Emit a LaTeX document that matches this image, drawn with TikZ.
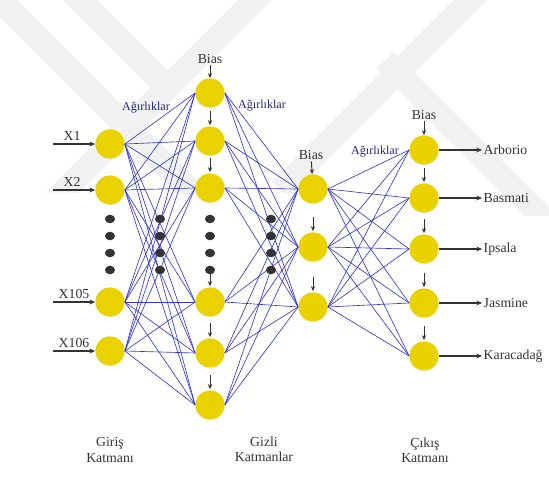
\documentclass[tikz,border=0pt]{standalone}
\usepackage{fontspec}
\setmainfont{Liberation Serif}
\usetikzlibrary{arrows.meta,calc}
\definecolor{Ink}{HTML}{333333}
\definecolor{Wire}{HTML}{3434D4}
\definecolor{Navy}{HTML}{24247E}
\definecolor{Yolk}{HTML}{EAD200}
\definecolor{Mark}{HTML}{F1F1F1}

\begin{document}
\begin{tikzpicture}[x=0.25mm,y=-0.25mm,
  neuron/.style={circle,fill=Yolk,minimum size=7.3mm,inner sep=0pt},
  wire/.style={Wire,line width=0.45pt},
  tick/.style={Ink,line width=0.7pt,-{Stealth[length=3.5pt,width=3pt]}},
  io/.style={Ink,line width=1pt,-{Stealth[length=4pt,width=3.5pt]}},
  txt/.style={text=Ink,font=\fontsize{9.8}{10.8}\selectfont,inner sep=1pt},
  wt/.style={text=Navy,font=\fontsize{8.6}{10}\selectfont,inner sep=1pt},
  band/.style={Mark,line width=6mm}]
  \useasboundingbox (0,0) rectangle (549,480);
  % watermark
  \begin{scope}
    \clip (0,0) rectangle (549,192);
    \draw[band] (-10,-10) -- (200,200);
    \draw[band] (70,-10) -- (170,90);
    \draw[band] (265,-10) -- (55,200);
    \draw[band] (480,-10) -- (280,190);
  \end{scope}
  \begin{scope}
    \clip (0,0) rectangle (549,215);
    \draw[band] (385,60) -- (560,235);
  \end{scope}
  % layers
  \foreach \n/\y in {1/144,2/190,3/302,4/351} \node[neuron] (i\n) at (110,\y) {};
  \foreach \n/\y in {1/93,2/141,3/188,4/302,5/353,6/405} \node[neuron] (h\n) at (210,\y) {};
  \foreach \n/\y in {1/189,2/247,3/307} \node[neuron] (g\n) at (313,\y) {};
  \foreach \n/\y in {1/150,2/198,3/249,4/303,5/356} \node[neuron] (o\n) at (424,\y) {};
  % weights
  \foreach \a in {1,...,4}{\foreach \b in {1,...,6}{\draw[wire] (i\a.east) -- (h\b.west);}}
  \foreach \a in {1,...,6}{\foreach \b in {1,2,3}{\draw[wire] (h\a.east) -- (g\b.west);}}
  \foreach \a in {1,2,3}{\foreach \b in {1,...,5}{\draw[wire] (g\a.east) -- (o\b.west);}}
  % dots
  \foreach \x in {110,160,210,271}{\foreach \y in {219,236,253,270}{\fill[Ink] (\x,\y) ellipse (5 and 4.3);}}
  % bias
  \node[txt] (bh) at (210,59) {Bias};
  \node[txt] (bg) at (311,155) {Bias};
  \node[txt] (bo) at (424,115) {Bias};
  \draw[tick] (bh) -- (h1);
  \draw[tick] (bg) -- (g1);
  \draw[tick] (bo) -- (o1);
  \foreach \n in {2,...,6} \draw[tick] ($(h\n.north)+(0,-15)$) -- ($(h\n.north)+(0,-1)$);
  \foreach \n in {2,3} \draw[tick] ($(g\n.north)+(0,-15)$) -- ($(g\n.north)+(0,-1)$);
  \foreach \n in {2,...,5} \draw[tick] ($(o\n.north)+(0,-15)$) -- ($(o\n.north)+(0,-1)$);
  \node[wt] (w1) at (146,108) {Ağırlıklar};
  \node[wt] (w2) at (262,106) {Ağırlıklar};
  \node[wt] (w3) at (375,152) {Ağırlıklar};
  % inputs
  \foreach \n/\y/\t/\x in {1/144/X1/72,2/190/X2/72,3/302/X105/74,4/351/X106/74}{
    \coordinate (s\n) at (53,\y);
    \draw[io] (s\n) -- (i\n.west);
    \node[txt,anchor=south] (x\n) at (\x,\y-2) {\t};
  }
  % outputs
  \foreach \n/\y/\t in {1/150/Arborio,2/198/Basmati,3/249/Ipsala,4/303/Jasmine,5/356/Karacadağ}{
    \node[txt,anchor=west] (c\n) at (482,\y) {\t};
    \draw[io] (o\n.east) -- (c\n.west);
  }
  \node[txt,align=center] (lin) at (110,450) {Giriş\\Katmanı};
  \node[txt,align=center] (lhid) at (264,449) {Gizli\\Katmanlar};
  \node[txt,align=center] (lout) at (425,450) {Çıkış\\Katmanı};
\end{tikzpicture}
\end{document}
